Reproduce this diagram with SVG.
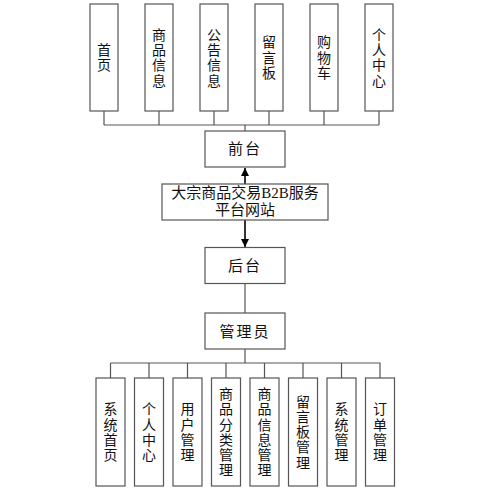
<svg xmlns="http://www.w3.org/2000/svg" width="500" height="491" viewBox="0 0 500 491">
<style>
.b{fill:#fff;stroke:#555;stroke-width:1.2}
.c{fill:none;stroke:#555;stroke-width:1.2}
.a{fill:none;stroke:#000;stroke-width:1.6}
text{font-family:"Noto Sans CJK SC","Liberation Serif",serif;font-size:15px;fill:#111;text-anchor:middle}
.v{font-size:14px;writing-mode:vertical-rl;letter-spacing:1.3px}
.m{font-family:"Liberation Serif","Noto Sans CJK SC",serif}
</style>
<defs>
<marker id="ar" viewBox="0 0 10 10" refX="10" refY="5" markerWidth="8" markerHeight="8" markerUnits="userSpaceOnUse" orient="auto">
<path d="M0,0 L10,5 L0,10 z" fill="#000"/>
</marker>
</defs>
<rect width="500" height="491" fill="#fff"/>
<g id="connectors">
<path class="c" d="M104,111V125M159,111V125M214,111V125M269,111V125M324,111V125M379,111V125M104,125H379M245,125V131"/>
<path class="a" d="M245,184V168" marker-end="url(#ar)"/>
<path class="a" d="M245,220V247" marker-end="url(#ar)"/>
<path class="c" d="M245,283V313"/>
<path class="c" d="M245,349V363M110.5,363H380.5M110.5,363V378M149,363V378M187.5,363V378M226,363V378M264.5,363V378M303,363V378M341.5,363V378M380,363V378"/>
</g>
<g id="n1"><rect class="b" x="90" y="4" width="28" height="107"/><text class="v" x="104" y="58">首页</text></g>
<g id="n2"><rect class="b" x="145" y="4" width="28" height="107"/><text class="v" x="159" y="58">商品信息</text></g>
<g id="n3"><rect class="b" x="200" y="4" width="28" height="107"/><text class="v" x="214" y="58">公告信息</text></g>
<g id="n4"><rect class="b" x="255" y="4" width="28" height="107"/><text class="v" x="269" y="58">留言板</text></g>
<g id="n5"><rect class="b" x="310" y="4" width="28" height="107"/><text class="v" x="324" y="58">购物车</text></g>
<g id="n6"><rect class="b" x="365" y="4" width="28" height="107"/><text class="v" x="379" y="58">个人中心</text></g>
<g id="qiantai"><rect class="b" x="205" y="131" width="80" height="36"/><text x="245" y="154" letter-spacing="2">前台</text></g>
<g id="main"><rect class="b" x="162" y="184" width="166" height="36"/><text class="m" x="245" y="198">大宗商品交易B2B服务<tspan x="245" dy="17">平台网站</tspan></text></g>
<g id="houtai"><rect class="b" x="205" y="247.5" width="80" height="36"/><text x="245" y="270.5" letter-spacing="2">后台</text></g>
<g id="admin"><rect class="b" x="205" y="313" width="80" height="36"/><text x="245" y="336.5" letter-spacing="2">管理员</text></g>
<g id="m1"><rect class="b" x="96" y="378" width="29" height="108"/><text class="v" x="110.5" y="432.5">系统首页</text></g>
<g id="m2"><rect class="b" x="134.5" y="378" width="29" height="108"/><text class="v" x="149" y="432.5">个人中心</text></g>
<g id="m3"><rect class="b" x="173" y="378" width="29" height="108"/><text class="v" x="187.5" y="432.5">用户管理</text></g>
<g id="m4"><rect class="b" x="211.5" y="378" width="29" height="108"/><text class="v" x="226" y="432.5">商品分类管理</text></g>
<g id="m5"><rect class="b" x="250" y="378" width="29" height="108"/><text class="v" x="264.5" y="432.5">商品信息管理</text></g>
<g id="m6"><rect class="b" x="288.5" y="378" width="29" height="108"/><text class="v" x="303" y="432.5">留言板管理</text></g>
<g id="m7"><rect class="b" x="327" y="378" width="29" height="108"/><text class="v" x="341.5" y="432.5">系统管理</text></g>
<g id="m8"><rect class="b" x="365.5" y="378" width="29" height="108"/><text class="v" x="380" y="432.5">订单管理</text></g>
</svg>
